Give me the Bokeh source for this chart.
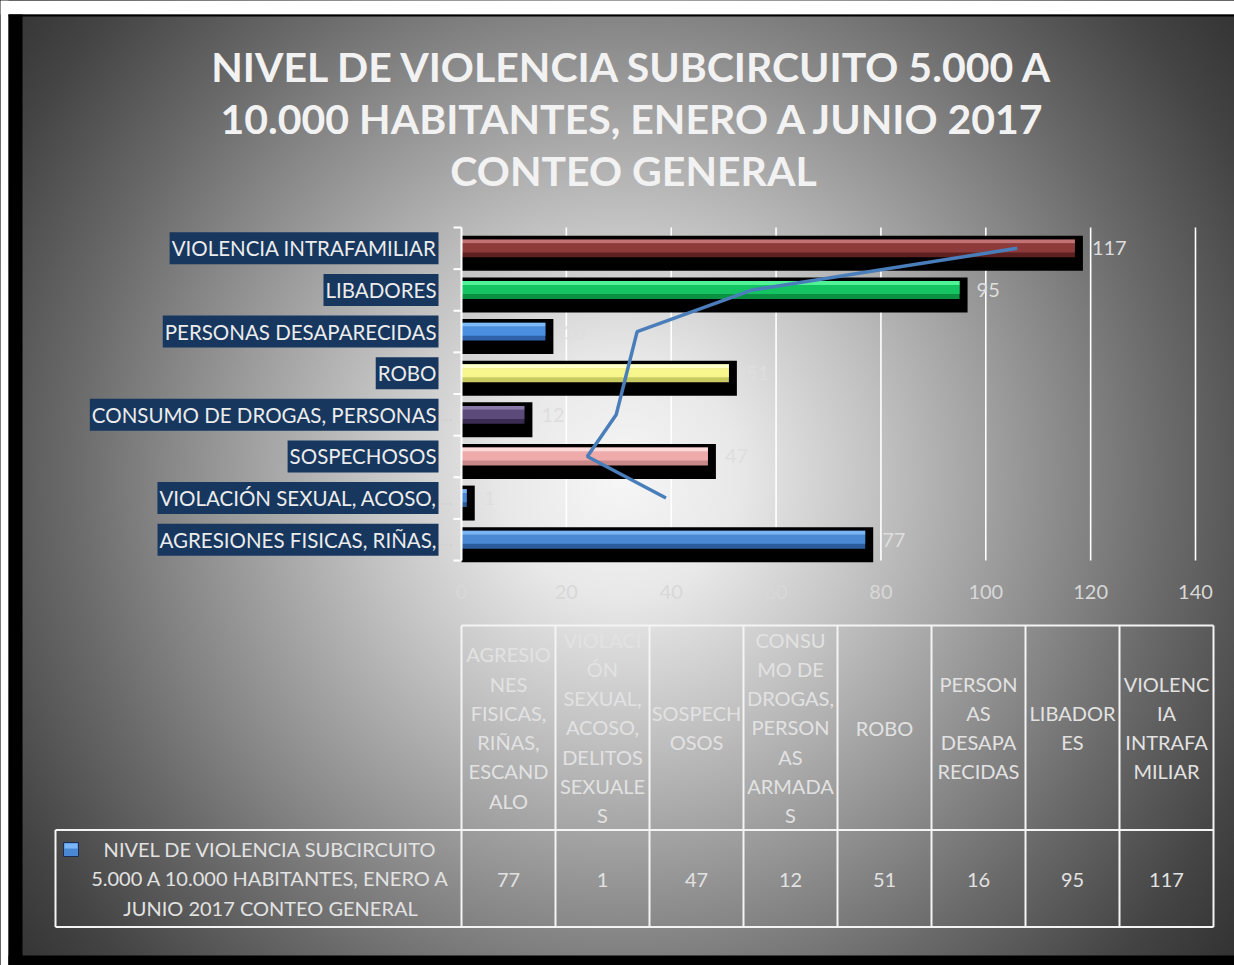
from bokeh.plotting import figure
from bokeh.models import Range1d, ColumnDataSource, Label
from bokeh.core.properties import value
from bokeh.embed import file_html
from bokeh.resources import INLINE

# ---------------- data ----------------
categories = ["AGRESIONES FISICAS, RIÑAS, ESCANDALO",
              "VIOLACIÓN SEXUAL, ACOSO, DELITOS SEXUALES",
              "SOSPECHOSOS",
              "CONSUMO DE DROGAS, PERSONAS ARMADAS",
              "ROBO",
              "PERSONAS DESAPARECIDAS",
              "LIBADORES",
              "VIOLENCIA INTRAFAMILIAR"]
axis_labels = ["AGRESIONES FISICAS, RIÑAS,",
               "VIOLACIÓN SEXUAL, ACOSO,",
               "SOSPECHOSOS",
               "CONSUMO DE DROGAS, PERSONAS",
               "ROBO",
               "PERSONAS DESAPARECIDAS",
               "LIBADORES",
               "VIOLENCIA INTRAFAMILIAR"]
truncated = [True, True, False, True, False, False, False, False]
counts = [77, 1, 47, 12, 51, 16, 95, 117]
# blue line for rows 2..8
trend_rows = [1, 2, 3, 4, 5, 6, 7]
trend_values = [39, 24, 29.5, 31.5, 33.5, 55.5, 106]
x_ticks = [0, 20, 40, 60, 80, 100, 120, 140]
x_tick_labels = ["0", "20", "40", "60", "80", "100", "120", "140"]
table_headers = ["AGRESIO\nNES\nFISICAS,\nRIÑAS,\nESCAND\nALO",
                 "VIOLACI\nÓN\nSEXUAL,\nACOSO,\nDELITOS\nSEXUALE\nS",
                 "SOSPECH\nOSOS",
                 "CONSU\nMO DE\nDROGAS,\nPERSON\nAS\nARMADA\nS",
                 "ROBO",
                 "PERSON\nAS\nDESAPA\nRECIDAS",
                 "LIBADOR\nES",
                 "VIOLENC\nIA\nINTRAFA\nMILIAR"]
legend_text = "NIVEL DE VIOLENCIA SUBCIRCUITO\n5.000 A 10.000 HABITANTES, ENERO A\nJUNIO 2017 CONTEO GENERAL"
title_lines = ["NIVEL DE VIOLENCIA SUBCIRCUITO 5.000 A",
               "10.000 HABITANTES, ENERO A JUNIO 2017",
               "CONTEO GENERAL"]

# ---------------- styles ----------------
body_colors = ["#4a88d4", "#4a88d4", "#efaaaa", "#5c4a7a", "#f6f68c", "#4a8ee0", "#14c462", "#8c3a3a"]
light_colors = ["#7ab6f6", "#7ab6f6", "#ffdada", "#8a78aa", "#ffffcc", "#7cbaf8", "#50f296", "#c27272"]
dark_colors = ["#2d5c9c", "#2d5c9c", "#c88888", "#3a2c52", "#caca62", "#2f62a8", "#0a9242", "#5c2020"]
FONT = "Lato"
TXT = "#e2e2e2"

W, H = 1234, 965
PX0, PX140 = 461.0, 1195.0          # page x of values 0 and 140
S = (PX140 - PX0) / 140.0
ROW_H = 41.625
Y_ROW0 = 539.2                      # page y of bottom row centre

p = figure(width=W, height=H, output_backend="svg", toolbar_location=None,
           x_range=Range1d(0, W), y_range=Range1d(H, 0),
           x_axis_location=None, y_axis_location=None, min_border=0)
p.grid.visible = False
p.outline_line_color = None
p.background_fill_color = None
p.border_fill_color = None
p.styles = {"background": "radial-gradient(circle farthest-corner at 620px 478px, "
                          "#f6f6f6 0px, #e8e8e8 120px, #c4c4c4 250px, #949494 410px, "
                          "#6a6a6a 550px, #444444 690px, #2a2a2a 820px)"}

p.extra_x_ranges = {"val": Range1d((0 - PX0) / S, (W - PX0) / S)}
p.extra_y_ranges = {"cat": Range1d((Y_ROW0 - H) / ROW_H, Y_ROW0 / ROW_H)}

# frame decorations (page coordinates)
p.quad(left=[0, 0], right=[W, 8], top=[0, 0], bottom=[14, H], fill_color="white", line_color=None)
p.quad(left=[8, 8, 8], right=[W, 22, W], top=[14, 14, 955], bottom=[16, H, H],
       fill_color="black", line_color=None)

# title
p.text(x=[633, 633, 633], y=[66, 118, 170], text=title_lines, text_align="center",
       text_baseline="middle", text_font=value(FONT), text_font_style="bold",
       text_font_size="41px", text_color="#f2f2f2")

idx = list(range(len(categories)))
src = ColumnDataSource(dict(
    y=idx, v=counts, zero=[0] * len(idx), lab=[str(c) for c in counts],
    shadow_y=[i - 0.12 for i in idx], shadow_r=[c + 8 / S for c in counts],
    light_y=[i + 0.1675 for i in idx], body_y=[i + 0.01 for i in idx],
    body=body_colors, light=light_colors, dark=dark_colors))

# gridlines
p.segment(x0=x_ticks[1:], x1=x_ticks[1:], y0=[-0.5] * 7, y1=[7.5] * 7,
          x_range_name="val", y_range_name="cat", line_color="white", line_width=1.6)

# bars
p.hbar(y="shadow_y", left="zero", right="shadow_r", height=0.84, source=src,
       x_range_name="val", y_range_name="cat", fill_color="black", line_color=None)
p.hbar(y="y", left="zero", right="v", height=0.43, source=src,
       x_range_name="val", y_range_name="cat", fill_color="dark", line_color=None)
p.hbar(y="body_y", left="zero", right="v", height=0.22, source=src,
       x_range_name="val", y_range_name="cat", fill_color="body", line_color=None)
p.hbar(y="light_y", left="zero", right="v", height=0.095, source=src,
       x_range_name="val", y_range_name="cat", fill_color="light", line_color=None)

# y axis line and ticks
p.segment(x0=[0], x1=[0], y0=[-0.5], y1=[7.5], x_range_name="val", y_range_name="cat",
          line_color="white", line_width=2)
p.segment(x0=[PX0 - 8] * 9, x1=[PX0] * 9, y0=[i - 0.5 for i in range(9)],
          y1=[i - 0.5 for i in range(9)], y_range_name="cat", line_color="white", line_width=2)

# data labels
p.text(x="v", y="y", text="lab", source=src, x_offset=17,
       x_range_name="val", y_range_name="cat", text_baseline="middle", text_align="left",
       text_font=value(FONT), text_font_size="20px", text_color="#dedede")

# x tick labels
p.text(x=x_ticks, y=[591] * len(x_ticks), text=x_tick_labels, x_range_name="val",
       text_align="center", text_baseline="middle", text_font=value(FONT),
       text_font_size="20px", text_color="#d8d8d8")

# trend line
p.line(x=trend_values, y=trend_rows, x_range_name="val", y_range_name="cat",
       line_color="#4a7ebb", line_width=3.5)

# category labels
for i, lab in enumerate(axis_labels):
    p.add_layout(Label(x=0, y=i, x_offset=-23, text=lab, x_range_name="val", y_range_name="cat",
                       text_align="right", text_baseline="middle", text_font=FONT,
                       text_font_size="20.5px", text_color="#ececec",
                       background_fill_color="#17375e",
                       padding=dict(left=2, right=2, top=4, bottom=4)))
ell_y = [i for i, t in enumerate(truncated) if t]
p.text(x=[0] * len(ell_y), y=ell_y, text=["…"] * len(ell_y), x_offset=-21,
       x_range_name="val", y_range_name="cat", text_baseline="middle", text_align="left",
       text_font=value(FONT), text_font_size="16px", text_color="#d0d0d0")

# data table
TL, TW = 461, 94
col_x = [TL + TW * (i + 0.5) for i in idx]
T_TOP, T_MID, T_BOT = 625, 829.5, 926.5
line_c = "#f4f4f4"
p.segment(x0=[TL, 55, 55], x1=[TL + 8 * TW] * 3, y0=[T_TOP, T_MID, T_BOT], y1=[T_TOP, T_MID, T_BOT],
          line_color=line_c, line_width=2)
p.segment(x0=[TL + TW * i for i in range(9)] + [55], x1=[TL + TW * i for i in range(9)] + [55],
          y0=[T_TOP] * 9 + [T_MID], y1=[T_BOT] * 10, line_color=line_c, line_width=2)
p.text(x=col_x, y=[727] * 8, text=table_headers, text_align="center", text_baseline="middle",
       text_line_height=1.22, text_font=value(FONT), text_font_size="20px", text_color=TXT)
p.text(x=col_x, y=[879] * 8, text=[str(c) for c in counts], text_align="center",
       text_baseline="middle", text_font=value(FONT), text_font_size="20px", text_color=TXT)

# legend key + series name
p.quad(left=[63], right=[78], top=[842], bottom=[856], fill_color="#4a88d4", line_color="#1c2c52",
       line_width=1)
p.quad(left=[64], right=[77], top=[843], bottom=[848], fill_color="#7ab6f6", line_color=None)
p.text(x=[270], y=[878], text=[legend_text], text_align="center", text_baseline="middle",
       text_line_height=1.22, text_font=value(FONT), text_font_size="20px", text_color=TXT)

open("out.html", "w").write(file_html(p, INLINE))
